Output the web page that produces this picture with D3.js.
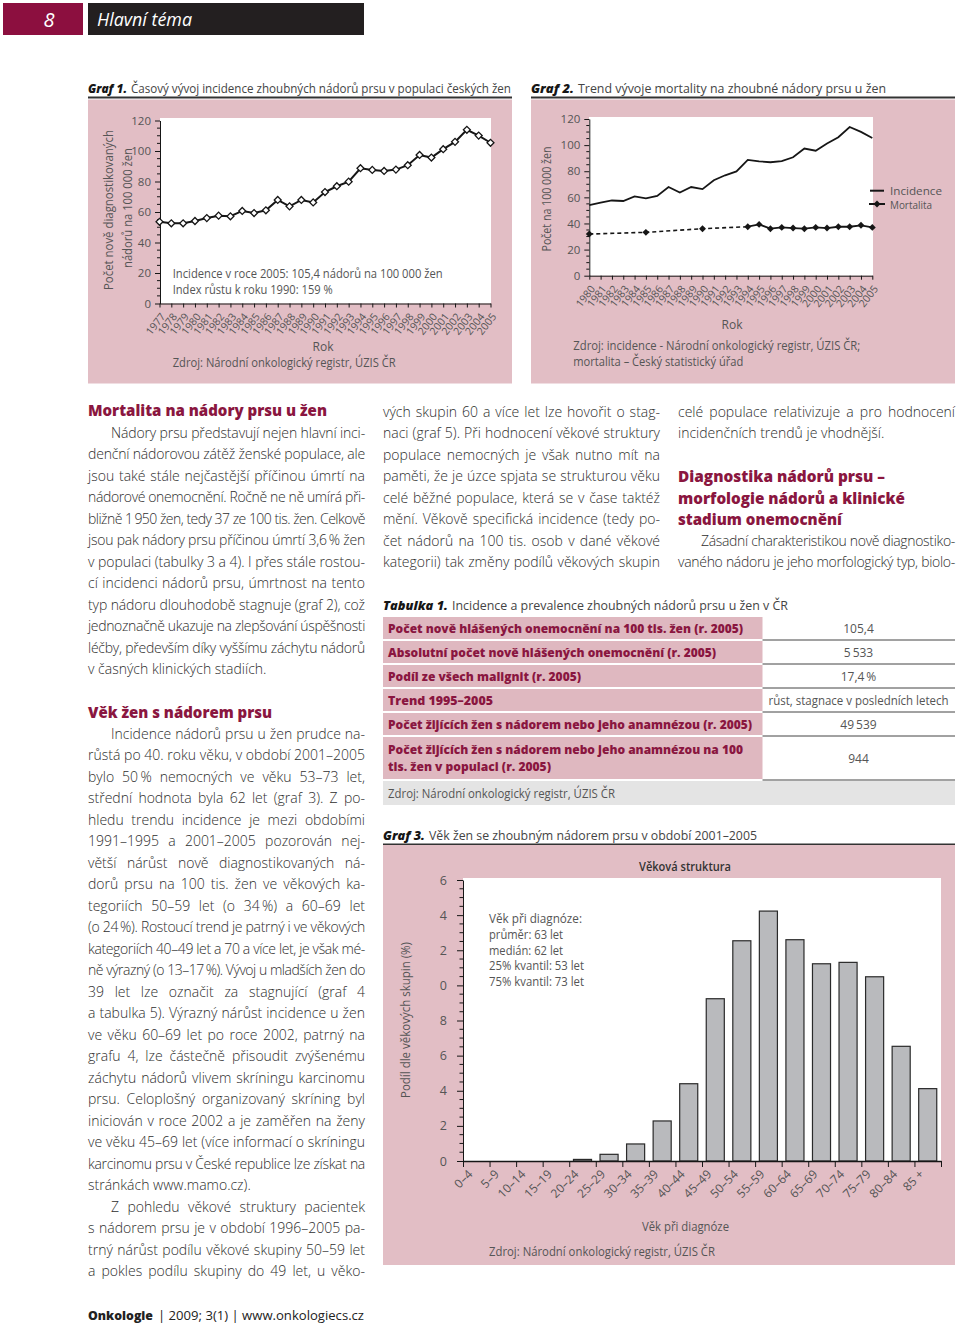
<!DOCTYPE html>
<html><head><meta charset="utf-8">
<script src="https://cdn.jsdelivr.net/npm/d3@7"></script>
<style>body{margin:0;background:#fff}svg{display:block}</style>
</head><body>
<script>
// ---------------- DATA ----------------
const years1 = [1977,1978,1979,1980,1981,1982,1983,1984,1985,1986,1987,1988,1989,1990,1991,1992,1993,1994,1995,1996,1997,1998,1999,2000,2001,2002,2003,2004,2005];
const incidence = [53.6,52.6,52.6,54.1,56.0,57.6,57.2,60.7,59.3,61.1,67.9,63.7,67.9,66.3,73.1,76.9,79.9,88.7,87.6,86.9,87.8,90.7,97.4,95.7,101.2,106.0,113.9,110.1,105.4];
const yTicks12 = [0,20,40,60,80,100,120];
const years2 = [1980,1981,1982,1983,1984,1985,1986,1987,1988,1989,1990,1991,1992,1993,1994,1995,1996,1997,1998,1999,2000,2001,2002,2003,2004,2005];
const mortalityYears = [1980,1985,1990,1994,1995,1996,1997,1998,1999,2000,2001,2002,2003,2004,2005];
const mortality = [31.9,33.2,36.0,37.5,39.3,36.0,37.0,36.5,36.0,37.0,36.5,37.5,37.5,38.6,37.0];
const legend2 = ["Incidence","Mortalita"];
const ageGroups = ["0–4","5–9","10–14","15–19","20–24","25–29","30–34","35–39","40–44","45–49","50–54","55–59","60–64","65–69","70–74","75–79","80–84","85 +"];
const ageShare = [0,0,0,0,0.09,0.38,0.97,2.28,4.40,9.24,12.54,14.23,12.60,11.23,11.31,10.49,6.53,4.12];
const ageTickValues = [0,2,4,6,8,10,12,14,16];
const ageTickLabels = ["0","2","4","6","8","0","2","4","6"];
const ageNotes = ["Věk při diagnóze:","průměr: 63 let","medián: 62 let","25% kvantil: 53 let","75% kvantil: 73 let"];
const tableLabels = [["Počet nově hlášených onemocnění na 100 tis. žen (r. 2005)"],["Absolutní počet nově hlášených onemocnění (r. 2005)"],["Podíl ze všech malignit (r. 2005)"],["Trend 1995–2005"],["Počet žijících žen s nádorem nebo jeho anamnézou (r. 2005)"],["Počet žijících žen s nádorem nebo jeho anamnézou na 100","tis. žen v populaci (r. 2005)"]];
const tableValues = ["105,4","5\u2009533","17,4\u2009%","růst, stagnace v posledních letech","49\u2009539","944"];

// ---------------- TEXT ----------------
const head1 = "Mortalita na nádory prsu u žen";
const para1 = ["Nádory prsu představují nejen hlavní inci-","denční nádorovou zátěž ženské populace, ale","jsou také stále nejčastější příčinou úmrtí na","nádorové onemocnění. Ročně ne ně umírá při-","bližně 1\u2009950 žen, tedy 37 ze 100 tis. žen. Celkově","jsou pak nádory prsu příčinou úmrtí 3,6\u2009% žen","v populaci (tabulky 3 a 4). I přes stále rostou-","cí incidenci nádorů prsu, úmrtnost na tento","typ nádoru dlouhodobě stagnuje (graf 2), což","jednoznačně ukazuje na zlepšování úspěšnosti","léčby, především díky vyššímu záchytu nádorů","v časných klinických stadiích."];
const head2 = "Věk žen s nádorem prsu";
const para2 = ["Incidence nádorů prsu u žen prudce na-","růstá po 40. roku věku, v období 2001–2005","bylo 50\u2009% nemocných ve věku 53–73 let,","střední hodnota byla 62 let (graf 3). Z po-","hledu trendu incidence je mezi obdobími","1991–1995 a 2001–2005 pozorován nej-","větší nárůst nově diagnostikovaných ná-","dorů prsu na 100 tis. žen ve věkových ka-","tegoriích 50–59 let (o 34\u2009%) a 60–69 let","(o 24\u2009%). Rostoucí trend je patrný i ve věkových","kategoriích 40–49 let a 70 a více let, je však mé-","ně výrazný (o 13–17\u2009%). Vývoj u mladších žen do","39 let lze označit za stagnující (graf 4","a tabulka 5). Výrazný nárůst incidence u žen","ve věku 60–69 let po roce 2002, patrný na","grafu 4, lze částečně přisoudit zvýšenému","záchytu nádorů vlivem skríningu karcinomu","prsu. Celoplošný organizovaný skríning byl","iniciován v roce 2002 a je zaměřen na ženy","ve věku 45–69 let (více informací o skríningu","karcinomu prsu v České republice lze získat na","stránkách www.mamo.cz)."];
const para3 = ["Z pohledu věkové struktury pacientek","s nádorem prsu je v období 1996–2005 pa-","trný nárůst podílu věkové skupiny 50–59 let","a pokles podílu skupiny do 49 let, u věko-"];
const para4 = ["vých skupin 60 a více let lze hovořit o stag-","naci (graf 5). Při hodnocení věkové struktury","populace nemocných je však nutno mít na","paměti, že je úzce spjata se strukturou věku","celé běžné populace, která se v čase taktéž","mění. Věkově specifická incidence (tedy po-","čet nádorů na 100 tis. osob v dané věkové","kategorii) tak změny podílů věkových skupin"];
const para5 = ["celé populace relativizuje a pro hodnocení","incidenčních trendů je vhodnější."];
const head3 = ["Diagnostika nádorů prsu –","morfologie nádorů a klinické","stadium onemocnění"];
const para6 = ["Zásadní charakteristikou nově diagnostiko-","vaného nádoru je jeho morfologický typ, biolo-"];

// ---------------- SETUP ----------------
const W=960,H=1325;
const PINK='#e2bec5', TPINK='#dfb8c0', RED='#8a1640', TXT='#2e2e2e', AX='#555', INK='#161616';
const FONT="'Open Sans','Noto Sans',sans-serif";
const svg=d3.select('body').append('svg').attr('width',W).attr('height',H);
svg.append('rect').attr('width',W).attr('height',H).attr('fill','#fff');

function T(p,x,y,s,o={}){
  const t=p.append('text').attr('x',x).attr('y',y).text(s)
    .attr('font-family',o.ff||FONT).attr('font-size',o.fs||12).attr('fill',o.fill||TXT);
  if(o.fw) t.attr('font-weight',o.fw);
  if(o.fst) t.attr('font-style',o.fst);
  if(o.anchor) t.attr('text-anchor',o.anchor);
  if(o.dy) t.attr('dy',o.dy);
  if(o.w) t.attr('textLength',o.w).attr('lengthAdjust','spacingAndGlyphs');
  if(o.tr) t.attr('transform',o.tr);
  return t;
}
function styleAxis(g,fs){
  g.select('.domain').attr('stroke',INK).attr('stroke-width',1);
  g.selectAll('.tick line').attr('stroke',INK);
  g.selectAll('.tick text').attr('font-family',FONT).attr('font-size',fs).attr('fill',AX);
}

// ---------------- HEADER ----------------
svg.append('rect').attr('x',3).attr('y',3).attr('width',80).attr('height',32).attr('fill','#8c0f3f');
T(svg,49,27,"8",{fs:20,fill:'#fff',fst:'italic',anchor:'middle'});
svg.append('rect').attr('x',88).attr('y',3).attr('width',276).attr('height',32).attr('fill','#231f20');
T(svg,97,26,"Hlavní téma",{fs:19,fill:'#fff',fst:'italic',w:95});

function caption(x,y,bold,bw,rest,rx,rw,lineX1){
  T(svg,x,y,bold,{fs:12.5,fw:800,fst:'italic',fill:INK,w:bw});
  T(svg,rx,y,rest,{fs:12,fill:'#444',w:rw});
  if(lineX1) svg.append('rect').attr('x',x).attr('y',y+3.5).attr('width',lineX1-x).attr('height',2).attr('fill','#333');
}
caption(88,93,"Graf 1.",39,"Časový vývoj incidence zhoubných nádorů prsu v populaci českých žen",131,380,512);
caption(531,93,"Graf 2.",43,"Trend vývoje mortality na zhoubné nádory prsu u žen",578,308,955);

// ---------------- GRAF 1 ----------------
{
  const x=d3.scalePoint().domain(years1).range([159.5,490.5]);
  const y=d3.scaleLinear().domain([0,120]).range([303.5,120.5]);
  svg.append('rect').attr('x',88).attr('y',99.5).attr('width',424).attr('height',284).attr('fill',PINK);
  svg.append('rect').attr('x',160).attr('y',118).attr('width',331).attr('height',185.5).attr('fill','#fff');
  const gy=svg.append('g').attr('transform','translate(160,0)')
    .call(d3.axisLeft(y).tickValues(yTicks12).tickSize(5).tickSizeOuter(0).tickPadding(4));
  styleAxis(gy,11.5);
  svg.append('g').selectAll('line').data(d3.range(0,121,5).filter(v=>v%20)).join('line')
    .attr('x1',157).attr('x2',160).attr('y1',d=>y(d)).attr('y2',d=>y(d)).attr('stroke',INK);
  const gx=svg.append('g').attr('transform','translate(0,303.5)')
    .call(d3.axisBottom(x).tickSize(4).tickSizeOuter(0));
  styleAxis(gx,10.5);
  gx.selectAll('.tick text').attr('text-anchor','end').attr('x',0).attr('y',0).attr('dy','0.35em')
    .attr('transform','translate(3,11) rotate(-52)');
  svg.append('path').datum(incidence).attr('fill','none').attr('stroke',INK).attr('stroke-width',2)
    .attr('d',d3.line().x((d,i)=>x(years1[i])).y(d=>y(d)));
  svg.append('g').selectAll('path').data(incidence).join('path')
    .attr('d',d3.symbol(d3.symbolSquare,24)())
    .attr('transform',(d,i)=>`translate(${x(years1[i])},${y(d)}) rotate(45)`)
    .attr('fill','#fff').attr('stroke',INK).attr('stroke-width',1.3);
  T(svg,172.7,278,"Incidence v roce 2005: 105,4 nádorů na 100 000 žen",{fs:12,fill:'#555',w:270});
  T(svg,172.7,294,"Index růstu k roku 1990: 159 %",{fs:12,fill:'#555',w:160});
  T(svg,0,0,"Počet nově diagnostikovaných",{fs:12.5,fill:'#555',anchor:'middle',dy:'0.35em',w:160,tr:'translate(108.5,210) rotate(-90)'});
  T(svg,0,0,"nádorů na 100 000 žen",{fs:12.5,fill:'#555',anchor:'middle',dy:'0.35em',w:120,tr:'translate(127.5,208) rotate(-90)'});
  T(svg,323,351,"Rok",{fs:12,fill:'#555',anchor:'middle'});
  T(svg,172.7,366.5,"Zdroj: Národní onkologický registr, ÚZIS ČR",{fs:12,fill:'#555',w:223});
}

// ---------------- GRAF 2 ----------------
{
  const x=d3.scalePoint().domain(years2).range([589.3,872.3]);
  const y=d3.scaleLinear().domain([0,120]).range([275.7,119]);
  svg.append('rect').attr('x',531).attr('y',99.5).attr('width',424).attr('height',284).attr('fill',PINK);
  svg.append('rect').attr('x',589).attr('y',117).attr('width',284).attr('height',158.7).attr('fill','#fff');
  const gy=svg.append('g').attr('transform','translate(589.3,0)')
    .call(d3.axisLeft(y).tickValues(yTicks12).tickSize(5).tickSizeOuter(0).tickPadding(4));
  styleAxis(gy,11.5);
  svg.append('g').selectAll('line').data(d3.range(0,121,5).filter(v=>v%20)).join('line')
    .attr('x1',586.3).attr('x2',589.3).attr('y1',d=>y(d)).attr('y2',d=>y(d)).attr('stroke',INK);
  const gx=svg.append('g').attr('transform','translate(0,275.7)')
    .call(d3.axisBottom(x).tickSize(4).tickSizeOuter(0));
  styleAxis(gx,10.5);
  gx.selectAll('.tick text').attr('text-anchor','end').attr('x',0).attr('y',0).attr('dy','0.35em')
    .attr('transform','translate(3,11) rotate(-52)');
  const inc2 = years2.map(yr=>incidence[years1.indexOf(yr)]);
  svg.append('path').datum(inc2).attr('fill','none').attr('stroke',INK).attr('stroke-width',1.8)
    .attr('d',d3.line().x((d,i)=>x(years2[i])).y(d=>y(d)));
  const mline=d3.line().x(d=>x(d[0])).y(d=>y(d[1]));
  const mpts=mortalityYears.map((yr,i)=>[yr,mortality[i]]);
  svg.append('path').datum(mpts.slice(0,4)).attr('fill','none').attr('stroke',INK).attr('stroke-width',1.6)
    .attr('stroke-dasharray','4,3').attr('d',mline);
  svg.append('path').datum(mpts.slice(3)).attr('fill','none').attr('stroke',INK).attr('stroke-width',1.8).attr('d',mline);
  svg.append('g').selectAll('path').data(mpts).join('path')
    .attr('d',d3.symbol(d3.symbolSquare,24)())
    .attr('transform',d=>`translate(${x(d[0])},${y(d[1])}) rotate(45)`).attr('fill',INK);
  // legend
  svg.append('line').attr('x1',870).attr('x2',884).attr('y1',190.7).attr('y2',190.7).attr('stroke',INK).attr('stroke-width',2);
  T(svg,890,194.5,legend2[0],{fs:11,fill:'#555',w:52});
  svg.append('line').attr('x1',869).attr('x2',885).attr('y1',204).attr('y2',204).attr('stroke',INK).attr('stroke-width',2);
  svg.append('path').attr('d',d3.symbol(d3.symbolSquare,24)()).attr('transform','translate(877,204) rotate(45)').attr('fill',INK);
  T(svg,890,208.5,legend2[1],{fs:11,fill:'#555',w:42});
  T(svg,0,0,"Počet na 100 000 žen",{fs:12.5,fill:'#555',anchor:'middle',dy:'0.35em',w:105,tr:'translate(547,199) rotate(-90)'});
  T(svg,732,328.5,"Rok",{fs:12,fill:'#555',anchor:'middle'});
  T(svg,573.3,350,"Zdroj: incidence - Národní onkologický registr, ÚZIS ČR;",{fs:12,fill:'#555',w:287});
  T(svg,573.3,366,"mortalita – Český statistický úřad",{fs:12,fill:'#555',w:170});
}

// ---------------- BODY TEXT ----------------
const LH=21.5, bodyNodes=[];
function para(lines,x0,x1,y0,indent,lastJust){
  lines.forEach((s,i)=>{
    const xs=x0+(i===0&&indent?23:0);
    const t=T(svg,xs,y0+i*LH+4.5,s,{fs:13,fw:300,fill:TXT});
    const just=i<lines.length-1||lastJust;
    bodyNodes.push({t,s,target:just?x1-xs:null});
  });
}
function heading(s,x,yc,w){ T(svg,x,yc+5,s,{fs:15,fw:800,fill:RED,w}); }
heading(head1,88,411,239);
para(para1,88,365,433,true,false);
heading(head2,88,713,184);
para(para2,88,365,734,true,false);
para(para3,88,365,1207,true,true);
para(para4,383,660,412,false,true);
para(para5,678,955,412,false,false);
heading(head3[0],678,477,207); heading(head3[1],678,498.5,227); heading(head3[2],678,520,164);
para(para6,678,955,541,true,true);
{
  // pick the font size from the median line fit, then justify by word spacing
  const ratios=[];
  bodyNodes.forEach(b=>{ if(b.target) ratios.push(b.target/b.t.node().getComputedTextLength()); });
  const fs=Math.min(14,13*d3.median(ratios));
  bodyNodes.forEach(b=>{
    b.t.attr('font-size',fs.toFixed(2));
    if(!b.target) return;
    const nat=b.t.node().getComputedTextLength();
    const diff=b.target-nat, n=(b.s.match(/ /g)||[]).length;
    if(diff>=0 && n>0) b.t.attr('word-spacing',(diff/n).toFixed(2));
    else if(diff<0) b.t.attr('letter-spacing',(diff/(b.s.length)).toFixed(3));
  });
}
// footer
T(svg,88,1320,"Onkologie",{fs:13,fw:800,fill:'#222',w:65});
T(svg,158,1320,"|  2009; 3(1)  |  www.onkologiecs.cz",{fs:12.5,fill:'#222',w:206});

// ---------------- TABLE ----------------
T(svg,383,609.5,"Tabulka 1.",{fs:12.5,fw:800,fst:'italic',fill:INK,w:65});
T(svg,452,609.5,"Incidence a prevalence zhoubných nádorů prsu u žen v ČR",{fs:12,fill:'#444',w:336});
{
  const rows=[[616,640],[640,664],[664,688],[688,712],[712,736],[736,780]];
  const widths=[[355],[328],[193],[105],[364],[355,163]];
  rows.forEach((r,i)=>{
    svg.append('rect').attr('x',383).attr('y',r[0]+1).attr('width',379.5).attr('height',r[1]-r[0]-2).attr('fill',TPINK);
    svg.append('line').attr('x1',762.5).attr('x2',955).attr('y1',r[1]).attr('y2',r[1]).attr('stroke','#444').attr('stroke-width',1);
    const lines=tableLabels[i];
    const cy=(r[0]+r[1])/2;
    lines.forEach((s,j)=>{
      const yc=cy+(j-(lines.length-1)/2)*17;
      T(svg,388,yc+4.5,s,{fs:12.5,fw:800,fill:RED,w:widths[i][j]});
    });
    const v=T(svg,858.5,cy+4.5,tableValues[i],{fs:12,fill:'#555',anchor:'middle'});
    if(i===3) v.attr('textLength',180).attr('lengthAdjust','spacingAndGlyphs');
  });
  svg.append('rect').attr('x',383).attr('y',781).attr('width',572).attr('height',24).attr('fill','#e4e4e4');
  T(svg,388,797.5,"Zdroj: Národní onkologický registr, ÚZIS ČR",{fs:12,fill:'#555',w:227});
}

// ---------------- GRAF 3 ----------------
caption(383,840,"Graf 3.",42,"Věk žen se zhoubným nádorem prsu v období 2001–2005",429,328,955);
{
  const x=d3.scaleBand().domain(ageGroups).range([463,941]).paddingInner(0.32).paddingOuter(0.16);
  const y=d3.scaleLinear().domain([0,16]).range([1161,880]);
  const xb=d3.scaleLinear().domain([0,ageGroups.length]).range([463,941]);
  svg.append('rect').attr('x',383).attr('y',845).attr('width',572).attr('height',420).attr('fill',PINK);
  svg.append('rect').attr('x',463).attr('y',878).attr('width',478).attr('height',283).attr('fill','#fff');
  T(svg,685,871,"Věková struktura",{fs:12,fw:600,fill:'#333',anchor:'middle',w:92});
  svg.append('g').selectAll('rect').data(ageShare).join('rect')
    .attr('x',(d,i)=>x(ageGroups[i])).attr('width',x.bandwidth())
    .attr('y',d=>y(d)).attr('height',d=>y(0)-y(d))
    .attr('fill','#b9babd').attr('stroke','#2a2a2a').attr('stroke-width',1.2);
  const gy=svg.append('g').attr('transform','translate(463,0)')
    .call(d3.axisLeft(y).tickValues(ageTickValues).tickFormat((d,i)=>ageTickLabels[i]).tickSize(6).tickSizeOuter(0).tickPadding(10));
  styleAxis(gy,12.5);
  svg.append('g').selectAll('line').data(d3.range(0,16.01,0.5).filter(v=>v%2)).join('line')
    .attr('x1',459.5).attr('x2',463).attr('y1',d=>y(d)).attr('y2',d=>y(d)).attr('stroke',INK);
  const gx=svg.append('g').attr('transform','translate(0,1161)')
    .call(d3.axisBottom(xb).tickValues(d3.range(0,ageGroups.length+1)).tickFormat('').tickSize(6).tickSizeOuter(0));
  styleAxis(gx,11);
  gx.select('.domain').attr('stroke-width',1.3);
  svg.append('g').selectAll('text').data(ageGroups).join('text')
    .attr('text-anchor','end').attr('dy','0.35em')
    .attr('transform',d=>`translate(${x(d)+x.bandwidth()/2-6},${1172}) rotate(-45)`)
    .attr('font-family',FONT).attr('font-size',12).attr('fill',AX).text(d=>d);
  ageNotes.forEach((s,i)=>{
    const w=[93,74,74,95,95][i];
    T(svg,489,[919,935,950.7,966,981.7][i]+4,s,{fs:12,fill:'#555',w});
  });
  T(svg,0,0,"Podíl dle věkových skupin (%)",{fs:12.5,fill:'#555',anchor:'middle',dy:'0.35em',w:156,tr:'translate(406,1020) rotate(-90)'});
  T(svg,685.5,1231,"Věk při diagnóze",{fs:12,fill:'#555',anchor:'middle',w:87});
  T(svg,489,1256,"Zdroj: Národní onkologický registr, ÚZIS ČR",{fs:12,fill:'#555',w:226});
}
</script>
</body></html>
